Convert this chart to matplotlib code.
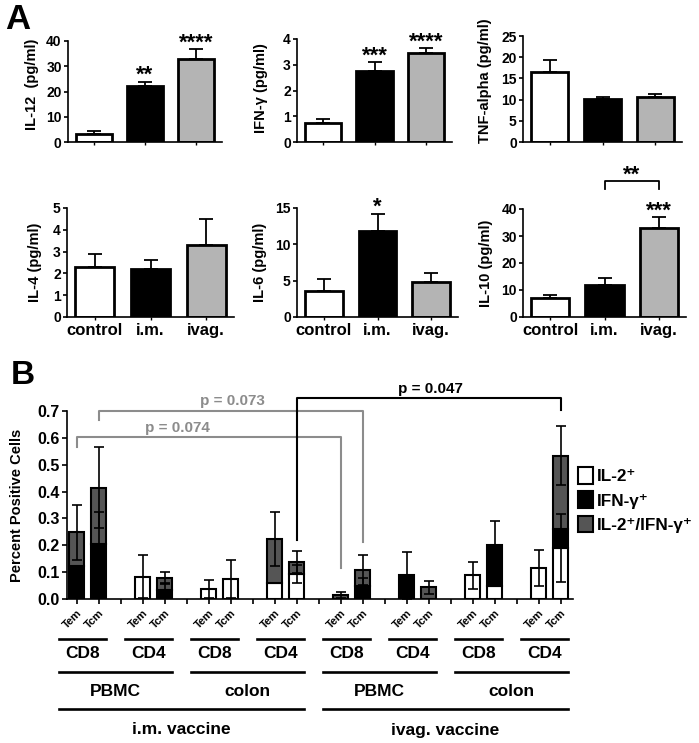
import numpy as np
import matplotlib
matplotlib.use('Agg')
import matplotlib.pyplot as plt
import matplotlib.transforms as mtransforms
from matplotlib.lines import Line2D
from matplotlib.patches import Patch

plt.rcParams['font.family'] = ['Liberation Sans', 'DejaVu Sans']
plt.rcParams['font.weight'] = 'bold'
plt.rcParams['axes.labelweight'] = 'bold'
plt.rcParams['axes.linewidth'] = 1.2

W, H = 699, 743

# ---------------- panel A data ----------------
groups_a = ['control', 'i.m.', 'ivag.']
colors_a = ['white', 'black', '#b4b4b4']

il12 = [3.1, 22.3, 32.9]
il12_err = [1.3, 1.6, 3.9]
ifng = [0.74, 2.77, 3.47]
ifng_err = [0.16, 0.32, 0.17]
tnfa = [16.6, 10.2, 10.6]
tnfa_err = [2.7, 0.35, 0.75]
il4 = [2.31, 2.22, 3.29]
il4_err = [0.59, 0.39, 1.19]
il6 = [3.63, 11.86, 4.78]
il6_err = [1.6, 2.34, 1.29]
il10 = [6.9, 11.7, 33.1]
il10_err = [1.2, 2.6, 3.8]

ylabels_a = ['IL-12  (pg/ml)', 'IFN-γ (pg/ml)', 'TNF-alpha (pg/ml)',
             'IL-4 (pg/ml)', 'IL-6 (pg/ml)', 'IL-10 (pg/ml)']
ymax_a = [40, 4, 25, 5, 15, 40]
ystep_a = [10, 1, 5, 1, 5, 10]
stars_a = [['', '**', '****'], ['', '***', '****'], ['', '', ''],
           ['', '', ''], ['', '*', ''], ['', '', '***']]

# ---------------- panel B data ----------------
cells = ['Tem', 'Tcm']
subsets = ['CD8', 'CD4', 'CD8', 'CD4', 'CD8', 'CD4', 'CD8', 'CD4']
tissues = ['PBMC', 'colon', 'PBMC', 'colon']
vaccines = ['i.m. vaccine', 'ivag. vaccine']

il2_pos = np.array([0, 0, 0.083, 0, 0.037, 0.074, 0.06, 0.093,
                    0, 0, 0, 0, 0.088, 0.05, 0.115, 0.19])
ifn_pos = np.array([0.124, 0.206, 0, 0.035, 0, 0, 0, 0,
                    0, 0.047, 0.088, 0, 0, 0.152, 0, 0.071])
dbl_pos = np.array([0.124, 0.209, 0, 0.042, 0, 0, 0.164, 0.045,
                    0.014, 0.062, 0, 0.043, 0, 0, 0, 0.273])
il2_err = np.array([0, 0, 0.081, 0, 0.034, 0.072, 0, 0.035,
                    0, 0, 0, 0, 0.05, 0, 0.068, 0.127])
ifn_err = np.array([0, 0.117, 0, 0.025, 0, 0, 0, 0,
                    0, 0.031, 0.087, 0, 0, 0.087, 0, 0])
dbl_err = np.array([0.103, 0.15, 0, 0.023, 0, 0, 0.1, 0.042,
                    0.011, 0.056, 0, 0.025, 0, 0, 0, 0.11])

fig = plt.figure(figsize=(W / 100, H / 100), dpi=100)


def px_axes(l, t, r, b):
    return fig.add_axes([l / W, 1 - b / H, (r - l) / W, (b - t) / H])


def fy(p):
    return 1 - p / H


# ---------------- panel A ----------------
boxes = [(68, 41, 222, 142), (297, 39, 452, 142), (523, 36, 682, 142),
         (67, 208, 234, 317), (297, 208, 458, 317), (523, 209, 686, 317)]
label_xy = [(-0.19, 0.57), (-0.19, 0.52), (-0.195, 0.58),
            (-0.15, 0.5), (-0.186, 0.5), (-0.184, 0.5)]
vals = [il12, ifng, tnfa, il4, il6, il10]
errs = [il12_err, ifng_err, tnfa_err, il4_err, il6_err, il10_err]

x_a = np.arange(3)
axes_a = []
for n in range(6):
    ax = px_axes(*boxes[n])
    axes_a.append(ax)
    v = np.array(vals[n])
    e = np.array(errs[n])
    ax.errorbar(x_a, v, yerr=[np.zeros(3), e], fmt='none', ecolor='black',
                elinewidth=1.3, capsize=5, capthick=1.3, zorder=1)
    ax.bar(x_a, v, width=0.7, color=colors_a, edgecolor='black',
           linewidth=2.0, zorder=2)
    for i in range(3):
        if stars_a[n][i]:
            ax.annotate(stars_a[n][i], (x_a[i], v[i] + e[i]), xytext=(0, 0.5),
                        textcoords='offset points', ha='center', va='baseline',
                        fontsize=16, annotation_clip=False)
    ax.set_xlim(-0.5, 2.5)
    ax.set_ylim(0, ymax_a[n])
    ax.set_yticks(np.arange(0, ymax_a[n] + 0.01, ystep_a[n]))
    ax.set_yticklabels([str(int(t)) for t in ax.get_yticks()],
                       fontweight='bold')
    ax.spines['top'].set_visible(False)
    ax.spines['right'].set_visible(False)
    ax.tick_params(axis='y', direction='out', length=3, width=1.2,
                   labelsize=10, pad=1.5)
    ax.tick_params(axis='x', direction='out', length=2, width=1.0,
                   labelsize=12, pad=2)
    ax.set_xticks(x_a)
    if n >= 3:
        ax.set_xticklabels(groups_a, fontweight='bold')
    else:
        ax.set_xticklabels([])
    ax.set_ylabel(ylabels_a[n], fontsize=10.5, fontweight='bold')
    ax.yaxis.set_label_coords(*label_xy[n])

# bracket IL-10 i.m. vs ivag.
ax10 = axes_a[5]
ax10.plot([1, 1, 2, 2], [47.4, 50.4, 50.4, 47.4], color='black', lw=1.3,
          clip_on=False)
ax10.annotate('**', (1.5, 50.4), xytext=(0, 0.5), textcoords='offset points',
              ha='center', va='baseline', fontsize=16, annotation_clip=False)

fig.text(5 / W, fy(3), 'A', fontsize=25, va='top', ha='left')
fig.text(11 / W, fy(360), 'B', fontsize=24, va='top', ha='left')

# ---------------- panel B ----------------
axB = px_axes(67, 411, 573, 599)
pos = np.array([3 * g + k for g in range(8) for k in range(2)])
bar_w = 0.68

segments = [(il2_pos, il2_err, 'white'), (ifn_pos, ifn_err, 'black'),
            (dbl_pos, dbl_err, '#555555')]
bottom = np.zeros(len(pos))
for seg, err, col in segments:
    m = seg > 0
    axB.bar(pos[m], seg[m], bottom=bottom[m], width=bar_w, color=col,
            edgecolor='black', linewidth=1.5, zorder=2)
    top = bottom + seg
    me = m & (err > 0)
    axB.errorbar(pos[me], top[me], yerr=err[me], fmt='none', ecolor='black',
                 elinewidth=1.2, capsize=3.5, capthick=1.2, zorder=3)
    bottom = top

axB.set_xlim(-0.45, 22.55)
axB.set_ylim(0, 0.7)
axB.set_yticks(np.arange(0, 0.71, 0.1))
axB.set_yticklabels(['%.1f' % t for t in np.arange(0, 0.71, 0.1)],
                    fontweight='bold')
ticks_b = np.arange(23)
axB.set_xticks(ticks_b)
axB.set_xticklabels([cells[t % 3] if t % 3 < 2 else '' for t in ticks_b],
                    rotation=45, ha='right', rotation_mode='anchor',
                    fontsize=8, fontweight='bold')
axB.spines['top'].set_visible(False)
axB.spines['right'].set_visible(False)
axB.tick_params(axis='y', direction='out', length=3.5, width=1.2,
                labelsize=11.5, pad=1.5)
axB.tick_params(axis='x', direction='out', length=3.5, width=1.2, pad=3)
axB.set_ylabel('Percent Positive Cells', fontsize=10.5, fontweight='bold')
axB.yaxis.set_label_coords(-0.085, 0.5)

# significance brackets
gray_b = '#8c8c8c'
axB.plot([0, 0, 12, 12], [0.565, 0.602, 0.602, 0.115], color=gray_b, lw=1.5,
         clip_on=False, zorder=4)
axB.text(4.55, 0.637, 'p = 0.074', color=gray_b, fontsize=11, ha='center',
         va='center')
axB.plot([1, 1, 13, 13], [0.667, 0.70, 0.70, 0.212], color=gray_b, lw=1.5,
         clip_on=False, zorder=4)
axB.text(7.05, 0.737, 'p = 0.073', color=gray_b, fontsize=11, ha='center',
         va='center', clip_on=False)
axB.plot([10, 10, 22, 22], [0.22, 0.748, 0.748, 0.704], color='black',
         lw=1.5, clip_on=False, zorder=4)
axB.text(16.05, 0.782, 'p = 0.047', color='black', fontsize=11, ha='center',
         va='center', clip_on=False)

# grouping labels under the x axis
trans = mtransforms.blended_transform_factory(axB.transData, fig.transFigure)


def group_line(x0, x1, ypix, label, ytext):
    fig.add_artist(Line2D([x0, x1], [fy(ypix), fy(ypix)], transform=trans,
                          color='black', lw=1.9))
    fig.text((x0 + x1) / 2, fy(ytext), label, transform=trans, ha='center',
             va='center', fontsize=12.5)


for g in range(8):
    group_line(3 * g - 0.8, 3 * g + 1.3, 639, subsets[g], 653)
for t in range(4):
    group_line(6 * t - 0.8, 6 * t + 4.3, 672, tissues[t], 691)
for v in range(2):
    group_line(12 * v - 0.8, 12 * v + 10.3, 709, vaccines[v], 730)

# legend
handles = [Patch(facecolor='white', edgecolor='black', lw=1.5, label='IL-2⁺'),
           Patch(facecolor='black', edgecolor='black', lw=1.5, label='IFN-γ⁺'),
           Patch(facecolor='#555555', edgecolor='black', lw=1.5,
                 label='IL-2⁺/IFN-γ⁺')]
axB.legend(handles=handles, loc='center left',
           bbox_to_anchor=(578 / W, fy(500)), bbox_transform=fig.transFigure,
           frameon=False, fontsize=12.3, handlelength=0.87, handleheight=1.1,
           handletextpad=0.25, labelspacing=0.42, borderaxespad=0, borderpad=0)

fig.savefig('out.png', dpi=100)
